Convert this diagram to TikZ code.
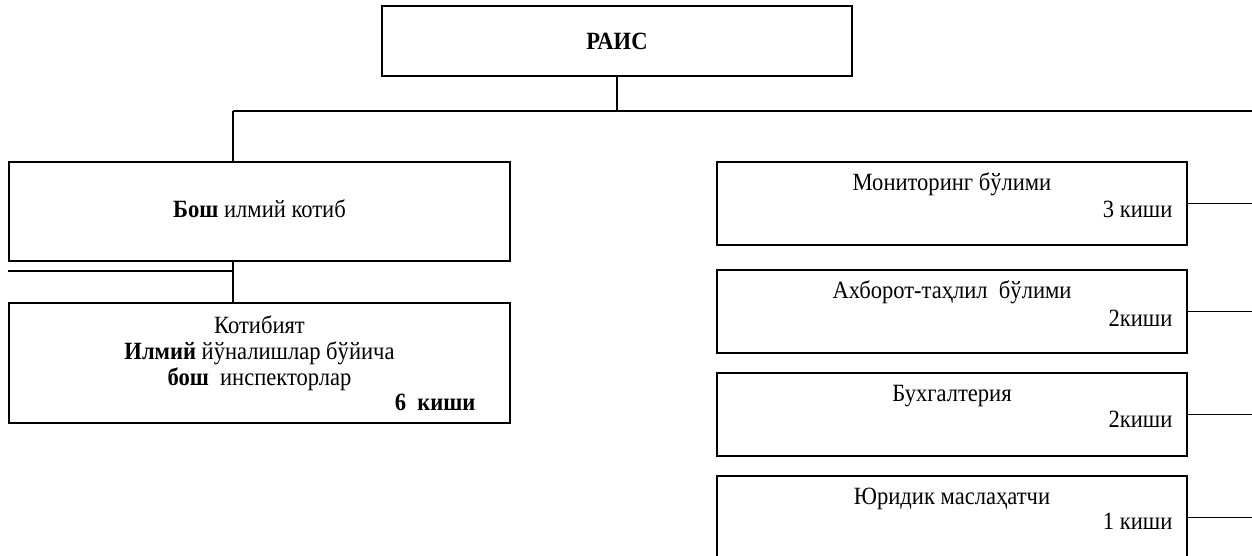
\documentclass[tikz,border=0pt]{standalone}
\usepackage{fontspec}
\setmainfont[FakeStretch=0.91]{Liberation Serif}
\usepackage{tikz}

\begin{document}
\begin{tikzpicture}[x=0.5pt, y=-0.5pt, line width=0.6pt,
    font=\fontsize{12.4}{14}\selectfont,
    box/.style={draw, inner sep=0pt, minimum width=235pt, minimum height=41.5pt},
    heading/.style={anchor=base, inner sep=0pt},
    staff/.style={anchor=base east, inner sep=0pt}]
    \useasboundingbox (0, 0) rectangle (1252, 556);

% top
    % draw chairman box
    \node[box, minimum height=35pt] (rais) at (617, 41) {};
    \node[heading] (rais-t) at (617, 50) {\textbf{РАИС}};

    % draw bus line
    \coordinate (bus) at (233, 111);
    \coordinate (edge) at (1252, 111);
    \draw (rais.south) -- (rais.south |- bus);
    \draw (bus) -- (edge);

% left column
    % draw secretary box
    \node[box, minimum width=250.5pt, minimum height=49.5pt] (bosh) at (259.5, 211.5) {};
    \node[heading] (bosh-t) at (259.5, 217) {\textbf{Бош} илмий котиб};

    % draw secretariat box
    \node[box, minimum width=250.5pt, minimum height=60pt] (kotib) at (259.5, 363) {};
    \node[heading] (kotib-t1) at (259.5, 333) {Котибият};
    \node[heading] (kotib-t2) at (259.5, 359) {\textbf{Илмий} йўналишлар бўйича};
    \node[heading] (kotib-t3) at (259.5, 385) {\textbf{бош}~~инспекторлар};
    \node[staff] (kotib-n) at (476, 410) {\textbf{6~~киши}};

    % draw left links
    \coordinate (stub) at (233, 271);
    \draw (bus) -- (bus |- bosh.north);
    \draw (bus |- bosh.south) -- (bus |- kotib.north);
    \draw (stub) -- (stub -| bosh.west);

% right column
    % draw department boxes
    \node[box] (monitor) at (952, 203.5) {};
    \node[heading] (monitor-t) at (952, 191) {Мониторинг бўлими};
    \node[staff] (monitor-n) at (1173, 217) {3 киши};

    \node[box] (axborot) at (952, 311.5) {};
    \node[heading] (axborot-t) at (952, 298) {Ахборот-таҳлил~~бўлими};
    \node[staff] (axborot-n) at (1173, 326) {2киши};

    \node[box] (buxgal) at (952, 414.5) {};
    \node[heading] (buxgal-t) at (952, 401) {Бухгалтерия};
    \node[staff] (buxgal-n) at (1173, 427) {2киши};

    \node[box] (yurist) at (952, 517.5) {};
    \node[heading] (yurist-t) at (952, 504) {Юридик маслаҳатчи};
    \node[staff] (yurist-n) at (1173, 529) {1 киши};

    % draw right ticks
    \draw (monitor.east) -- (monitor.east -| edge);
    \draw (axborot.east) -- (axborot.east -| edge);
    \draw (buxgal.east) -- (buxgal.east -| edge);
    \draw (yurist.east) -- (yurist.east -| edge);
\end{tikzpicture}
\end{document}
